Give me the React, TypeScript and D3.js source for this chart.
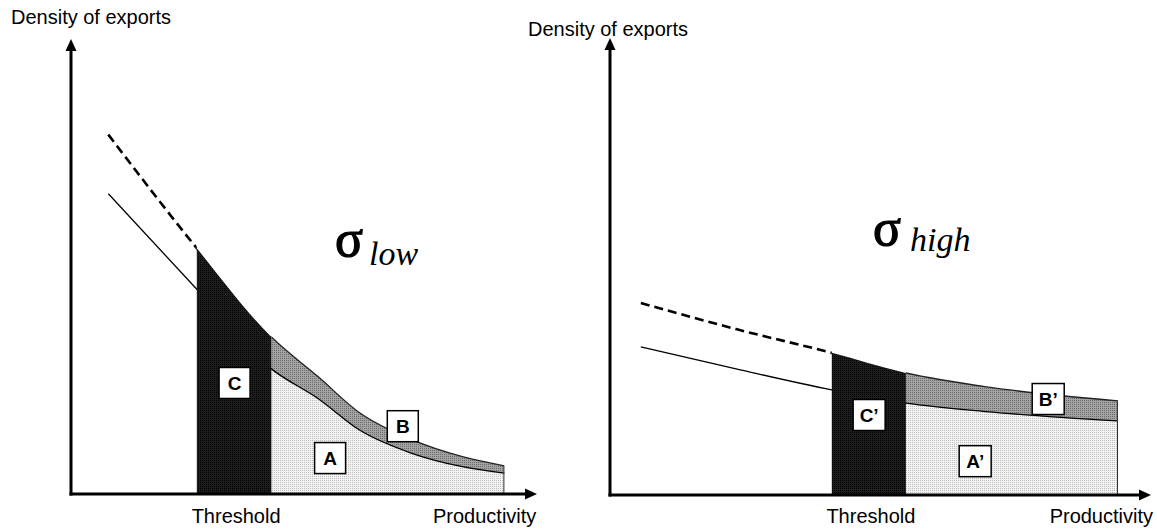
import React, { useEffect, useRef } from "react";
import * as d3 from "d3";

// Values, arbitrary units (productivity 0-10, density 0-10)
const lowProductivity = [0.8, 2.7, 4.3, 5.3, 6.2, 7.3, 8.4, 9.3];
const lowUpper = [7.9, 5.4, 3.45, 2.58, 1.78, 1.2, 0.82, 0.62];
const lowLower = [6.6, 4.5, 2.75, 2.1, 1.4, 0.9, 0.6, 0.46];
const lowCuts = [2.7, 4.3, 9.3]; // threshold, end of C, end of distribution

const highProductivity = [0.57, 2.33, 4.1, 5.47, 7.0, 9.39];
const highUpper = [4.2, 3.63, 3.11, 2.67, 2.36, 2.06];
const highLower = [3.24, 2.76, 2.3, 2.01, 1.82, 1.62];
const highCuts = [4.1, 5.47, 9.39];

const lowLabels = [
  { text: "C", x: 3.51, y: 2.44 },
  { text: "A", x: 5.56, y: 0.79 },
  { text: "B", x: 7.12, y: 1.49 },
];
const highLabels = [
  { text: "C’", x: 4.79, y: 1.75 },
  { text: "A’", x: 6.75, y: 0.74 },
  { text: "B’", x: 8.1, y: 2.1 },
];

interface Panel {
  id: string;
  prod: number[];
  upper: number[];
  lower: number[];
  cuts: number[];
  labels: { text: string; x: number; y: number }[];
  sub: string;
  x0: number;
  x1: number;
  y0: number;
  y1: number;
  titleX: number;
  titleY: number;
  sigmaX: number;
  sigmaY: number;
  subX: number;
  subY: number;
  prodX: number;
  prodAnchor: string;
}

const panels: Panel[] = [
  {
    id: "low", prod: lowProductivity, upper: lowUpper, lower: lowLower, cuts: lowCuts,
    labels: lowLabels, sub: "low",
    x0: 71, x1: 537, y0: 494, y1: 39, titleX: 11, titleY: 24,
    sigmaX: 335, sigmaY: 256, subX: 369, subY: 265, prodX: 433, prodAnchor: "start",
  },
  {
    id: "high", prod: highProductivity, upper: highUpper, lower: highLower, cuts: highCuts,
    labels: highLabels, sub: "high",
    x0: 610, x1: 1151, y0: 495, y1: 38, titleX: 528, titleY: 36,
    sigmaX: 873, sigmaY: 245, subX: 910, subY: 251, prodX: 1153, prodAnchor: "end",
  },
];

const SANS = "'Liberation Sans', Arial, sans-serif";
const SERIF = "'Liberation Serif', 'Times New Roman', serif";

const App: React.FC = () => {
  const svgRef = useRef<SVGSVGElement>(null);
  const width = 1157;
  const height = 529;

  useEffect(() => {
    if (!svgRef.current) return;
    const svg = d3.select(svgRef.current);
    svg.selectAll("*").remove();

    const defs = svg.append("defs");
    const pattern = (id: string, base: string, dot: string) => {
      const p = defs
        .append("pattern")
        .attr("id", id)
        .attr("width", 2)
        .attr("height", 2)
        .attr("patternUnits", "userSpaceOnUse");
      p.append("rect").attr("width", 2).attr("height", 2).attr("fill", base);
      p.append("rect").attr("width", 1).attr("height", 1).attr("fill", dot);
    };
    pattern("patA", "#f3f3f3", "#bcbcbc");
    pattern("patB", "#a4a4a4", "#6a6a6a");
    pattern("patC", "#1e1e1e", "#000000");

    panels.forEach((p) => {
      const x = d3.scaleLinear().domain([0, 10]).range([p.x0, p.x1]);
      const y = d3.scaleLinear().domain([0, 10]).range([p.y0, p.y1]);
      const g = svg.append("g");
      const [thr, cut, end] = p.cuts;

      const clip = (name: string, a: number, b: number) => {
        defs
          .append("clipPath")
          .attr("id", `${p.id}-${name}`)
          .append("rect")
          .attr("x", x(a))
          .attr("y", 0)
          .attr("width", x(b) - x(a))
          .attr("height", height);
        return `url(#${p.id}-${name})`;
      };
      const clipPre = clip("pre", 0, thr);
      const clipC = clip("c", thr, cut);
      const clipRest = clip("rest", cut, end);

      const idx = d3.range(p.prod.length);
      const curve = d3.curveMonotoneX;
      const upperLine = d3.line<number>().x((i) => x(p.prod[i])).y((i) => y(p.upper[i])).curve(curve);
      const lowerLine = d3.line<number>().x((i) => x(p.prod[i])).y((i) => y(p.lower[i])).curve(curve);
      const areaA = d3.area<number>().x((i) => x(p.prod[i])).y0(y(0)).y1((i) => y(p.lower[i])).curve(curve);
      const areaB = d3.area<number>().x((i) => x(p.prod[i])).y0((i) => y(p.lower[i])).y1((i) => y(p.upper[i])).curve(curve);
      const areaC = d3.area<number>().x((i) => x(p.prod[i])).y0(y(0)).y1((i) => y(p.upper[i])).curve(curve);

      g.append("path").attr("d", areaA(idx)).attr("fill", "url(#patA)").attr("clip-path", clipRest);
      g.append("path").attr("d", areaB(idx)).attr("fill", "url(#patB)").attr("clip-path", clipRest);

      // lower density curve (solid)
      g.append("path").attr("d", lowerLine(idx)).attr("fill", "none").attr("stroke", "#000").attr("stroke-width", 1.3);
      // upper density curve: dashed before threshold, solid edge after
      g.append("path")
        .attr("d", upperLine(idx))
        .attr("fill", "none")
        .attr("stroke", "#000")
        .attr("stroke-width", 2.6)
        .attr("stroke-dasharray", "9,5")
        .attr("clip-path", clipPre);
      g.append("path")
        .attr("d", upperLine(idx))
        .attr("fill", "none")
        .attr("stroke", "#222")
        .attr("stroke-width", 1.3)
        .attr("clip-path", clipRest);

      g.append("path").attr("d", areaC(idx)).attr("fill", "url(#patC)").attr("clip-path", clipC);

      // right edge of the distribution
      const endUpper = p.upper[p.upper.length - 1];
      g.append("line")
        .attr("x1", x(end) - 0.5).attr("x2", x(end) - 0.5)
        .attr("y1", y(0)).attr("y2", y(endUpper))
        .attr("stroke", "#333").attr("stroke-width", 1);

      // axes with arrows
      g.append("line")
        .attr("x1", x(0)).attr("x2", x(0))
        .attr("y1", y(0) + 1.5).attr("y2", y(10) + 10)
        .attr("stroke", "#000").attr("stroke-width", 3);
      g.append("path")
        .attr("d", `M${x(0)},${y(10)} L${x(0) - 5.5},${y(10) + 12} L${x(0) + 5.5},${y(10) + 12} Z`)
        .attr("fill", "#000");
      g.append("line")
        .attr("x1", x(0) - 1.5).attr("x2", x(10) - 10)
        .attr("y1", y(0)).attr("y2", y(0))
        .attr("stroke", "#000").attr("stroke-width", 3);
      g.append("path")
        .attr("d", `M${x(10)},${y(0)} L${x(10) - 12},${y(0) - 5.5} L${x(10) - 12},${y(0) + 5.5} Z`)
        .attr("fill", "#000");

      // boxed region labels
      const lab = g.selectAll(".lab").data(p.labels).join("g").attr("class", "lab")
        .attr("transform", (d) => `translate(${x(d.x)},${y(d.y)})`);
      lab.append("rect")
        .attr("x", (d) => (d.text.length > 1 ? -16 : -15.5))
        .attr("y", -15.5)
        .attr("width", (d) => (d.text.length > 1 ? 32 : 31))
        .attr("height", 31)
        .attr("fill", "#fff")
        .attr("stroke", "#000")
        .attr("stroke-width", 1.5);
      lab.append("text")
        .attr("text-anchor", "middle")
        .attr("y", 7)
        .attr("font-family", SANS)
        .attr("font-weight", "bold")
        .attr("font-size", 19)
        .text((d) => d.text);

      // axis titles
      g.append("text")
        .attr("x", p.titleX).attr("y", p.titleY)
        .attr("font-family", SANS).attr("font-size", 20)
        .text("Density of exports");
      g.append("text")
        .attr("x", (x(thr) + x(cut)) / 2 + 2).attr("y", 523)
        .attr("text-anchor", "middle")
        .attr("font-family", SANS).attr("font-size", 20)
        .text("Threshold");
      g.append("text")
        .attr("x", p.prodX).attr("y", 523)
        .attr("text-anchor", p.prodAnchor)
        .attr("font-family", SANS).attr("font-size", 20)
        .text("Productivity");

      // sigma annotation
      g.append("text")
        .attr("x", p.sigmaX).attr("y", p.sigmaY)
        .attr("font-family", SERIF).attr("font-size", 52)
        .attr("stroke", "#000").attr("stroke-width", 1.2)
        .text("σ");
      g.append("text")
        .attr("x", p.subX).attr("y", p.subY)
        .attr("font-family", SERIF).attr("font-style", "italic").attr("font-size", 34)
        .text(p.sub);
    });
  }, []);

  return (
    <svg
      ref={svgRef}
      width={width}
      height={height}
      style={{ position: "absolute", left: 0, top: 0, background: "#fff" }}
    />
  );
};

export default App;
